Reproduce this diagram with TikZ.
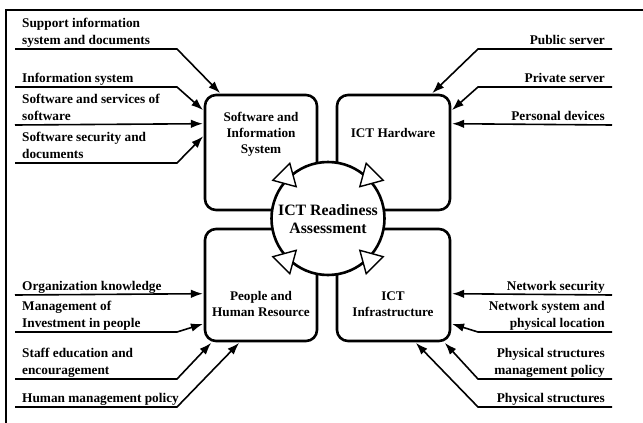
\documentclass[tikz,border=0pt]{standalone}
\usepackage{fontspec}
\setmainfont{Liberation Serif}
\usetikzlibrary{arrows.meta,calc}
\begin{document}
\begin{tikzpicture}[x=1pt,y=-1pt,
  box/.style={draw,line width=2.6pt,rounded corners=11pt,fill=white,inner sep=0pt},
  btext/.style={font=\fontsize{13.2}{16}\selectfont\bfseries,align=center,inner sep=0pt},
  ctext/.style={font=\fontsize{15.8}{18}\selectfont\bfseries,align=center,inner sep=0pt},
  lbl/.style={font=\fontsize{13.3}{16.5}\selectfont\bfseries,inner sep=0pt,text depth=0pt},
  lbll/.style={lbl,anchor=south west,align=left},
  lblr/.style={lbl,anchor=south east,align=right},
  conn/.style={line width=1.6pt,-{Latex[length=12pt,width=8.5pt]},shorten >=0.8pt},
  tri/.style={fill=white,draw,line width=1.4pt,line join=miter}]
\useasboundingbox (0,0) rectangle (643,423);
% frame
\draw[line width=2pt] (643,10) -- (6,10) -- (6,423);
% boxes
\node[box,minimum width=112pt,minimum height=115pt] (sis) at (261,152.5) {};
\node[box,minimum width=113pt,minimum height=115pt] (hw) at (393.5,152.5) {};
\node[box,minimum width=112pt,minimum height=112pt] (hr) at (261,285) {};
\node[box,minimum width=113pt,minimum height=112pt] (inf) at (393.5,285) {};
\node[btext] (sist) at (261,134) {Software and\\Information\\System};
\node[btext] (hwt) at (393,133) {ICT Hardware};
\node[btext] (hrt) at (261,304) {People and\\Human Resource};
\node[btext] (inft) at (393,304) {ICT\\Infrastructure};
% central circle
\node[circle,draw,line width=2.6pt,fill=white,minimum size=113pt,inner sep=0pt] (ra) at (328,218.5) {};
\node[ctext] (rat) at (328,219) {ICT Readiness\\Assessment};
\foreach \a in {45,135,225,315}
  \draw[tri] ($(ra.center)+(\a:45)$) -- ($(ra.center)+(\a:66)+(\a+90:12)$) -- ($(ra.center)+(\a:66)+(\a-90:12)$) -- cycle;
% left top labels
\node[lbll] (l1) at (22,44.5) {Support information\\system and documents};
\node[lbll] (l2) at (22,82.5) {Information system};
\node[lbll] (l3) at (22,120.5) {Software and services of\\software};
\node[lbll] (l4) at (22,158.5) {Software security and\\documents};
\coordinate (sl1) at (15,49);
\coordinate (sl2) at (15,87);
\coordinate (sl3) at (15,125);
\coordinate (sl4) at (15,163);
\draw[conn] (sl1) -- ++(162,0) -- ($(sis.north west)+(17,0)$);
\draw[conn] (sl2) -- ++(162,0) -- ($(sis.north west)+(0,17)$);
\draw[conn] (sl3) -- ($(sis.north west)+(0,30)$);
\draw[conn] (sl4) -- ++(162,0) -- ($(sis.north west)+(0,42)$);
% right top labels
\node[lblr] (r1) at (605,44.5) {Public server};
\node[lblr] (r2) at (605,82.5) {Private server};
\node[lblr] (r3) at (605,120.5) {Personal devices};
\coordinate (sr1) at (612,49);
\coordinate (sr2) at (612,87);
\coordinate (sr3) at (612,125);
\draw[conn] (sr1) -- ++(-134,0) -- ($(hw.north west)+(96,0)$);
\draw[conn] (sr2) -- ++(-134,0) -- ($(hw.north east)+(0,17)$);
\draw[conn] (sr3) -- ($(hw.north east)+(0,30)$);
% left bottom labels
\node[lbll] (b1) at (22,290.5) {Organization knowledge};
\node[lbll] (b2) at (22,327.5) {Management of\\Investment in people};
\node[lbll] (b3) at (22,374.5) {Staff education and\\encouragement};
\node[lbll] (b4) at (22,402.5) {Human management policy};
\coordinate (sb1) at (15,295);
\coordinate (sb2) at (15,332);
\coordinate (sb3) at (15,379);
\coordinate (sb4) at (15,407);
\draw[conn] (sb1) -- ($(hr.north west)+(0,66)$);
\draw[conn] (sb2) -- ++(162,0) -- ($(hr.north west)+(0,96)$);
\draw[conn] (sb3) -- ++(162,0) -- ($(hr.south west)+(8,0)$);
\draw[conn] (sb4) -- ++(162,0) -- ($(hr.south west)+(36,0)$);
% right bottom labels
\node[lblr] (c1) at (605,290.5) {Network security};
\node[lblr] (c2) at (605,327.5) {Network system and\\physical location};
\node[lblr] (c3) at (605,374.5) {Physical structures\\management policy};
\node[lblr] (c4) at (605,402.5) {Physical structures};
\coordinate (sc1) at (612,295);
\coordinate (sc2) at (612,332);
\coordinate (sc3) at (612,379);
\coordinate (sc4) at (612,407);
\draw[conn] (sc1) -- ($(inf.north east)+(0,66)$);
\draw[conn] (sc2) -- ++(-134,0) -- ($(inf.north east)+(0,96)$);
\draw[conn] (sc3) -- ++(-134,0) -- ($(inf.south east)+(-7,0)$);
\draw[conn] (sc4) -- ++(-134,0) -- ($(inf.south east)+(-36,0)$);
\end{tikzpicture}
\end{document}
